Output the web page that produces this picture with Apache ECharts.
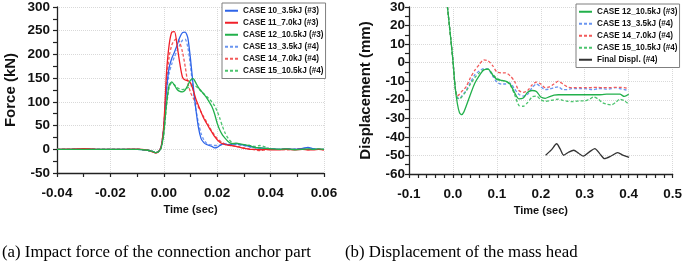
<!DOCTYPE html>
<html><head><meta charset="utf-8">
<script src="https://cdn.jsdelivr.net/npm/echarts@6/dist/echarts.min.js"></script>
<style>html,body{margin:0;padding:0;background:#fff}#c{width:685px;height:266px}</style>
</head><body><div id="c"></div>
<script>
// ---------- (a) Impact force ----------
const forceTime = [-0.04,-0.035,-0.03,-0.025,-0.02,-0.015,-0.01,-0.006,-0.004,-0.003,-0.002,-0.001,
  0.000,0.001,0.002,0.003,0.004,0.005,0.006,0.007,0.008,0.009,0.010,0.011,0.012,0.013,0.014,0.015,
  0.016,0.017,0.018,0.019,0.020,0.021,0.022,0.023,0.024,0.025,0.026,0.027,0.028,
  0.030,0.032,0.034,0.036,0.038,0.040,0.043,0.046,0.049,0.052,0.054,0.056,0.058,0.060];
const case10 = [0,0,0.5,0,0,0,0,-2,-5,-7,-5,5,
  45,125,172,192,205,220,236,246,247,235,190,135,85,45,22,14,
  10,8,6,3,4,8,11,11,10,10,11,12,11,
  9,6,4,3,2,1,0,1,0,2,4,1,0,0];
const case11 = [0,0.5,1.5,0,0,0,0.5,-2,-6,-8,-5,5,
  50,160,220,247,248,218,181,152,146,145,140,125,106,92,78,65,
  55,45,36,27,20,15,12,10,9,8,7,6,5,
  2,0,0,-1,0,-1,-1,0,-1,0,-1,-1,0,-1];
const case12 = [0,0,0,0,0,0,0,-2,-5,-7,-5,3,
  35,95,135,142,135,126,122,121,125,135,146,149,140,130,123,116,
  109,100,90,75,55,40,30,23,17,13,12,13,12,
  10,8,4,3,2,1,0,1,-1,0,1,0,1,0];
const case13 = [0,0,0,0,0,0,0,-2,-5,-7,-5,5,
  45,120,160,180,195,208,220,230,232,215,175,125,85,55,33,20,
  13,10,9,8,8,9,10,11,11,10,10,10,10,
  8,5,3,2,1,0,0,0,1,0,1,0,0,0];
const case14 = [0,0,0.5,0,0,0,0,-2,-5,-7,-5,5,
  50,140,195,220,230,233,225,205,175,140,120,108,98,88,78,68,
  58,48,38,30,23,18,14,11,9,8,7,6,5,
  3,1,-1,-3,-1,0,0,-1,0,0,-1,0,0,-1];
const case15 = [0,0,0,0,0,0,0,-2,-5,-7,-5,3,
  30,90,130,140,136,130,127,126,127,130,133,135,133,128,122,117,
  112,106,100,92,80,65,48,34,24,17,13,11,10,
  9,8,6,8,5,1,0,1,0,1,0,1,0,0];
const forceNames = ['CASE 10_3.5kJ (#3)','CASE 11_7.0kJ (#3)','CASE 12_10.5kJ (#3)',
  'CASE 13_3.5kJ (#4)','CASE 14_7.0kJ (#4)','CASE 15_10.5kJ (#4)'];

// ---------- (b) Displacement ----------
const dispTime = [-0.0125,-0.005,0.0,0.005,0.01,0.015,0.02,0.025,0.03,
  0.04,0.05,0.06,0.07,0.08,0.09,0.10,0.11,0.12,0.13,0.14,0.15,0.16,0.17,0.18,0.19,
  0.20,0.21,0.22,0.23,0.24,0.25,0.26,0.27,0.28,0.29,0.30,0.31,0.32,0.33,0.34,0.35,
  0.36,0.37,0.38,0.39,0.40];
const disp12 = [30,13,1,-13,-22,-27,-28,-26.5,-23.5,
  -17,-11,-7,-4,-3.5,-6.5,-9,-9.5,-10,-11.5,-16,-19.5,-19,-16,-15,-15.5,
  -18.5,-19.2,-18.3,-17.5,-17.3,-17.3,-17.3,-17.3,-17.3,-17.3,-17.3,-17.3,-17.3,-17.3,-17.2,-17,
  -17,-17,-17,-18.2,-17];
const disp13 = [30,13,1,-13,-18.5,-19.5,-18,-16.5,-15,
  -10.5,-6.5,-4.5,-3.2,-3.5,-7,-10.5,-11.5,-11.5,-11,-14,-17,-18,-17,-13.5,-11.5,
  -13,-14.5,-14.2,-13.5,-13,-14.5,-14.5,-14,-14,-14,-14,-14.3,-14.5,-14,-14,-14.3,
  -14,-13.5,-14,-14.5,-15];
const disp14 = [30,13,1,-13,-18,-17,-15.5,-14.5,-13,
  -8,-4,-1,1.5,1,-1.5,-5,-5.5,-5.5,-7,-10,-15,-16,-15,-12,-10.5,
  -11.5,-13.5,-13,-11.5,-10,-11.5,-13,-13.5,-13.5,-13.5,-13.5,-13.5,-13.3,-13.3,-13.5,-13.5,
  -13.5,-13.3,-13.3,-13.5,-14];
const disp15 = [30,13,1,-13,-19,-19.5,-18.5,-17,-15.5,
  -11.5,-8,-5.5,-3.8,-3.5,-6,-8.5,-9.5,-10,-12,-17,-23,-23.5,-21.5,-18.5,-18,
  -20,-20.8,-20.5,-20,-19.7,-20.3,-20.8,-21,-20.8,-20.6,-20.6,-19.8,-18.5,-19.5,-21.5,-22.4,
  -22.8,-21.5,-19.7,-20.5,-22.4];
const finalTime = [0.211,0.224,0.236,0.244,0.252,0.263,0.275,0.286,0.297,0.310,0.323,0.334,0.345,0.360,0.375,0.388,0.401];
const finalDisp = [-49.9,-47,-43.7,-46.5,-49.9,-48.3,-47.2,-48.8,-50.4,-48.2,-46.3,-49,-51.7,-50.3,-48.5,-50,-51.1];
const dispNames = ['CASE 12_10.5kJ (#3)','CASE 13_3.5kJ (#4)','CASE 14_7.0kJ (#4)',
  'CASE 15_10.5kJ (#4)','Final Displ. (#4)'];

const captionA = '(a) Impact force of the connection anchor part';
const captionB = '(b) Displacement of the mass head';

// ---------- styles ----------
const C = {blue:'#2E64E8', red:'#F0202A', green:'#22B04B',
  blueD:'#6A95F0', redD:'#F25A5A', greenD:'#4CC46E', black:'#333333'};
const DASH = [3,2];
const zip = (t, v) => t.map((x, i) => [x, v[i]]);
const axisCol = '#222';
const tickFont = {fontFamily:'Liberation Sans', fontWeight:'bold', fontSize:13.5, color:'#111'};

function xAx(grid, min, max, interval, split, dec, margin) {
  return {gridIndex:grid, type:'value', min, max, interval,
    axisLine:{show:true, onZero:false, lineStyle:{color:axisCol, width:1.3}},
    axisTick:{show:true, inside:false, length:4, lineStyle:{color:axisCol, width:1.2}},
    minorTick:{show:true, splitNumber:split, length:4, lineStyle:{color:axisCol, width:1.2}},
    splitLine:{show:true, lineStyle:{color:'#d9d9d9', type:'dotted', width:1}},
    minorSplitLine:{show:false},
    axisLabel:Object.assign({formatter:v => v.toFixed(dec), margin, showMinLabel:true, showMaxLabel:true}, tickFont),
    name:'Time (sec)', nameLocation:'middle', nameGap:28,
    nameTextStyle:{fontFamily:'Liberation Sans', fontWeight:'bold', fontSize:11, color:'#111'}};
}
function yAx(grid, min, max, interval, name, nameGap, margin) {
  return {gridIndex:grid, type:'value', min, max, interval,
    axisLine:{show:true, onZero:false, lineStyle:{color:axisCol, width:1.3}},
    axisTick:{show:true, inside:false, length:4, lineStyle:{color:axisCol, width:1.2}},
    minorTick:{show:true, splitNumber:2, length:4, lineStyle:{color:axisCol, width:1.2}},
    splitLine:{show:true, lineStyle:{color:'#d9d9d9', type:'dotted', width:1}},
    axisLabel:Object.assign({margin, showMinLabel:true, showMaxLabel:true}, tickFont),
    name, nameLocation:'middle', nameRotate:90, nameGap,
    nameTextStyle:{fontFamily:'Liberation Sans', fontWeight:'bold', fontSize:15, color:'#111'}};
}
function ser(name, gi, data, color, dashed, z) {
  return {type:'line', name, xAxisIndex:gi, yAxisIndex:gi, data, symbol:'none', showSymbol:false,
    smooth:0.25, clip:true, z:z||2,
    lineStyle:{color, width:1.3, type: dashed ? DASH : 'solid'}, itemStyle:{color}};
}
const legendBase = {orient:'vertical', padding:[2,2,2,2], itemGap:0.5, itemWidth:13, itemHeight:8,
  borderColor:'#7f7f7f', borderWidth:1, backgroundColor:'#fff',
  itemStyle:{color:'rgba(0,0,0,0)', borderColor:'rgba(0,0,0,0)', borderWidth:0, opacity:0},
  textStyle:{fontFamily:'Liberation Sans', fontWeight:'bold', fontSize:8.2, color:'#111', lineHeight:11.5}};

const chart = echarts.init(document.getElementById('c'), null, {renderer:'canvas'});
chart.setOption({
  animation:false,
  backgroundColor:'#fff',
  grid:[{left:57, top:6, width:267, height:167},
        {left:409, top:5, width:269, height:169}],
  xAxis:[xAx(0,-0.04,0.06,0.02,2,2,13), xAx(1,-0.1,0.5,0.1,5,1,13)],
  yAxis:[yAx(0,-50,300,50,'Force (kN)',39,7), yAx(1,-60,30,10,'Displacement (mm)',35.5,4)],
  legend:[Object.assign({}, legendBase, {left:222, top:3, data:forceNames}),
          Object.assign({}, legendBase, {left:576, top:4, data:dispNames})],
  series:[
    ser(forceNames[0],0,zip(forceTime,case10),C.blue,false,3),
    ser(forceNames[1],0,zip(forceTime,case11),C.red,false,3),
    ser(forceNames[2],0,zip(forceTime,case12),C.green,false,3),
    ser(forceNames[3],0,zip(forceTime,case13),C.blueD,true,2),
    ser(forceNames[4],0,zip(forceTime,case14),C.redD,true,2),
    ser(forceNames[5],0,zip(forceTime,case15),C.greenD,true,2),
    ser(dispNames[0],1,zip(dispTime,disp12),C.green,false,3),
    ser(dispNames[1],1,zip(dispTime,disp13),C.blueD,true,2),
    ser(dispNames[2],1,zip(dispTime,disp14),C.redD,true,2),
    ser(dispNames[3],1,zip(dispTime,disp15),C.greenD,true,2),
    ser(dispNames[4],1,zip(finalTime,finalDisp),C.black,false,3)
  ],
  graphic:[
    {type:'text', left:2, top:244, style:{text:captionA, font:'16.8px "Liberation Serif"', fill:'#000'}},
    {type:'text', left:345, top:244, style:{text:captionB, font:'16.8px "Liberation Serif"', fill:'#000'}}
  ]
});
</script></body></html>
